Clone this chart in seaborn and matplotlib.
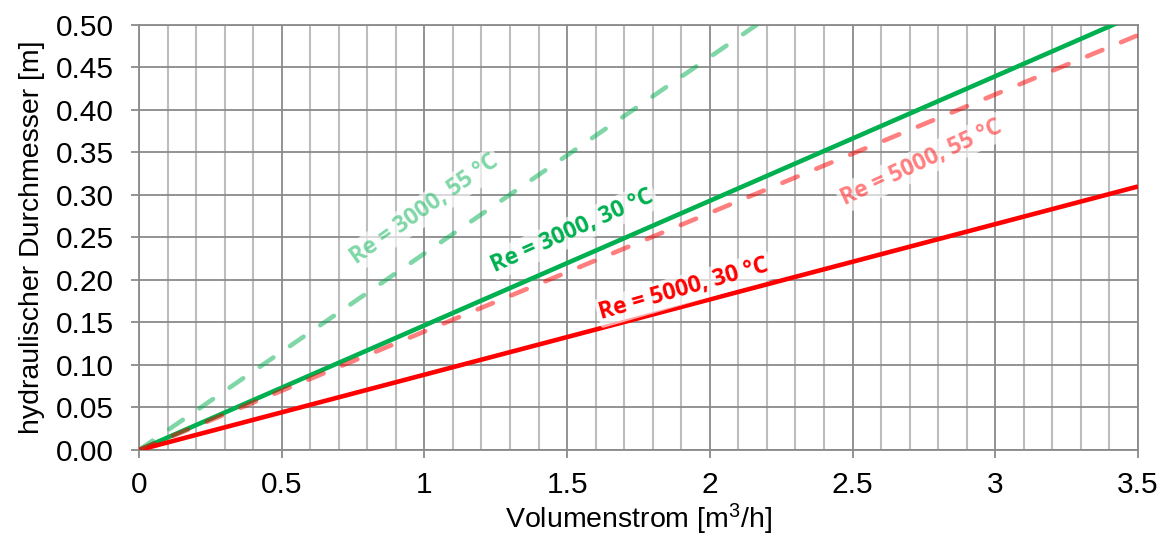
import numpy as np
import pandas as pd
import seaborn as sns
import matplotlib.pyplot as plt
from matplotlib.ticker import MultipleLocator

# Volumenstrom [m3/h] und hydraulischer Durchmesser [m]
volumenstrom = [0.0, 3.5]
d_re3000_30 = [0.0, 0.513]
d_re5000_30 = [0.0, 0.310]
d_re3000_55 = [0.0, 0.809]
d_re5000_55 = [0.0, 0.488]

x_ticks = [0, 0.5, 1, 1.5, 2, 2.5, 3, 3.5]
x_tick_labels = ["0", "0.5", "1", "1.5", "2", "2.5", "3", "3.5"]

sns.set_theme(style="white")
plt.rcParams['font.family'] = ['Liberation Sans', 'DejaVu Sans']
plt.rcParams['mathtext.fontset'] = 'custom'
plt.rcParams['mathtext.rm'] = 'Liberation Sans'

fig = plt.figure(figsize=(11.7, 5.4), dpi=100)
ax = fig.add_axes([0.1188, 0.1667, 0.8538, 0.787])

series = [
    ("Re = 3000, 30 °C", d_re3000_30, "#00B050", 1.0, "-"),
    ("Re = 5000, 30 °C", d_re5000_30, "#FF0000", 1.0, "-"),
    ("Re = 3000, 55 °C", d_re3000_55, "#00B050", 0.5, "--"),
    ("Re = 5000, 55 °C", d_re5000_55, "#FF0000", 0.5, "--"),
]

for name, vals, col, alpha, ls in series:
    df = pd.DataFrame({"x": volumenstrom, "y": vals})
    sns.lineplot(data=df, x="x", y="y", ax=ax, color=col, alpha=alpha,
                 linewidth=3.3, zorder=3)
    l = ax.lines[-1]
    if ls == "--":
        l.set_dashes((3.6, 4.4))
        l.set_dash_capstyle("round")
    l.set_solid_capstyle("butt")

ax.set_xlim(0, 3.5)
ax.set_ylim(0, 0.5)
ax.set_xticks(x_ticks)
ax.set_xticklabels(x_tick_labels)
ax.xaxis.set_minor_locator(MultipleLocator(0.1))
ax.yaxis.set_major_locator(MultipleLocator(0.05))
ax.yaxis.set_major_formatter(plt.FormatStrFormatter("%.2f"))

ax.grid(which="major", axis="both", color="#8a8a8a", linewidth=1.3, zorder=0)
ax.grid(which="minor", axis="x", color="#bdbdbd", linewidth=1.5, zorder=0)
ax.set_axisbelow(True)
for s in ax.spines.values():
    s.set_color("#8a8a8a")
    s.set_linewidth(1.3)

ax.tick_params(axis="both", which="major", direction="out", length=6, width=1.3,
               color="#8a8a8a", labelsize=21.5, labelcolor="black",
               left=True, bottom=True)
ax.tick_params(axis="x", which="minor", length=0)
ax.tick_params(axis="x", pad=9)
ax.tick_params(axis="y", pad=12)

ax.set_xlabel("Volumenstrom [m$\\mathrm{^3}$/h]", fontsize=20.5, labelpad=2, color="black")
ax.set_ylabel("hydraulischer Durchmesser [m]", fontsize=20.5, labelpad=8, color="black")

label_font = ['Open Sans', 'DejaVu Sans']
box = dict(facecolor="white", alpha=0.65, edgecolor="none", boxstyle="round,pad=0.12")
ax.text(1.0, 0.283, "Re = 3000, 55 °C", color="#00B050", alpha=0.5, rotation=35,
        fontsize=16.5, fontweight="bold", family=label_font, ha="center", va="center",
        bbox=box, zorder=4)
ax.text(1.52, 0.258, "Re = 3000, 30 °C", color="#00B050", rotation=24,
        fontsize=16.5, fontweight="bold", family=label_font, ha="center", va="center",
        bbox=box, zorder=4)
ax.text(1.91, 0.189, "Re = 5000, 30 °C", color="#FF0000", rotation=16,
        fontsize=16.5, fontweight="bold", family=label_font, ha="center", va="center",
        bbox=box, zorder=4)
ax.text(2.74, 0.338, "Re = 5000, 55 °C", color="#FF0000", alpha=0.5, rotation=25,
        fontsize=16.5, fontweight="bold", family=label_font, ha="center", va="center",
        bbox=box, zorder=4)

fig.savefig("out.png", dpi=100)
